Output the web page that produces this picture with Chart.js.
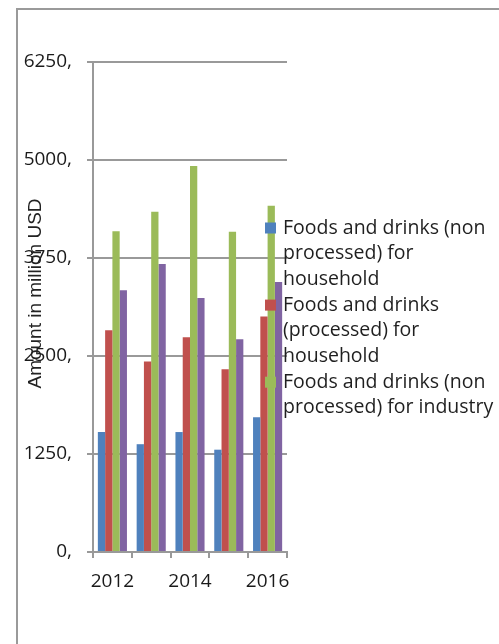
<!DOCTYPE html>
<html>
<head>
<meta charset="utf-8">
<title>Foods and drinks</title>
<script src="https://cdn.jsdelivr.net/npm/chart.js@4.4.1/dist/chart.umd.min.js"></script>
<style>
    html, body { margin: 0; padding: 0; background: #ffffff; }
    #wrap { position: relative; width: 499px; height: 644px; overflow: hidden; }
    #frame {
        position: absolute; left: 16px; top: 8px; width: 700px; height: 800px;
        border-left: 2px solid #9a9a9a; border-top: 2px solid #9a9a9a;
    }
    #chart { position: absolute; left: 0; top: 0; }
</style>
</head>
<body>
<div id="wrap">
    <div id="frame"></div>
    <canvas id="chart" width="499" height="644"></canvas>
</div>
<script>
// --- DATA ---
const categories = ['2012', '2013', '2014', '2015', '2016'];
const nonProcessedHousehold = [1530, 1375, 1530, 1305, 1720];
const processedHousehold = [2830, 2430, 2740, 2330, 3005];
const nonProcessedIndustry = [4090, 4340, 4925, 4085, 4415];
const processedIndustry = [3340, 3675, 3240, 2715, 3445];
const yTickValues = [0, 1250, 2500, 3750, 5000, 6250];
const yTitle = 'Amount in million USD';

const seriesLabels = [
    'Foods and drinks (non processed) for household',
    'Foods and drinks (processed) for household',
    'Foods and drinks (non processed) for industry',
    'Foods and drinks (processed) for industry'
];
const seriesColors = ['#4f81bd', '#c0504d', '#9bbb59', '#8064a2'];
// only the first three entries fit in the original legend box
const legendCount = 3;

const gridColor = '#999999';
const tickFont = { family: '"Open Sans", sans-serif', size: 19 };

/**
 * Draws the rotated axis title and the wrapped legend that overlaps the plot.
 */
const extrasPlugin = {
    id: 'extras',
    afterDraw(chart) {
        const ctx = chart.ctx;
        const area = chart.chartArea;

        // y axis title, sitting over the tick labels like the original
        ctx.save();
        ctx.translate(area.left - 52, (area.top + area.bottom) / 2 - 13.5);
        ctx.rotate(-Math.PI / 2);
        ctx.font = '19px "Liberation Sans", Arial, sans-serif';
        ctx.fillStyle = '#222222';
        ctx.textAlign = 'center';
        ctx.textBaseline = 'alphabetic';
        ctx.fillText(yTitle, 0, 0);
        ctx.restore();

        // legend
        ctx.save();
        ctx.font = '19.5px "Open Sans", sans-serif';
        ctx.textBaseline = 'middle';
        ctx.textAlign = 'left';
        const boxX = area.right - 22;
        const textX = boxX + 18;
        const maxWidth = 216;
        const linePitch = 25.7;
        let y = area.top + 166;

        chart.data.datasets.slice(0, legendCount).forEach(ds => {
            // word wrap
            const words = ds.label.split(' ');
            const lines = [];
            let line = '';
            words.forEach(w => {
                const test = line ? line + ' ' + w : w;
                if (ctx.measureText(test).width > maxWidth && line) {
                    lines.push(line);
                    line = w;
                } else {
                    line = test;
                }
            });
            lines.push(line);

            ctx.fillStyle = ds.backgroundColor;
            ctx.fillRect(boxX, y - 5.5, 11, 11);
            ctx.fillStyle = '#1f1f1f';
            lines.forEach(l => {
                ctx.fillText(l, textX, y);
                y += linePitch;
            });
        });
        ctx.restore();
    }
};

// --- CHART ---
const seriesData = [nonProcessedHousehold, processedHousehold, nonProcessedIndustry, processedIndustry];

new Chart(document.getElementById('chart'), {
    type: 'bar',
    data: {
        labels: categories,
        datasets: seriesData.map((values, i) => ({
            label: seriesLabels[i],
            data: values,
            backgroundColor: seriesColors[i],
            borderWidth: 0,
            categoryPercentage: 0.75,
            barPercentage: 1.0
        }))
    },
    options: {
        responsive: false,
        animation: false,
        layout: { padding: { left: 0, top: 62, right: 212, bottom: 0 } },
        plugins: {
            legend: { display: false },
            tooltip: { enabled: false }
        },
        scales: {
            x: {
                offset: true,
                grid: {
                    offset: true,
                    drawOnChartArea: false,
                    drawTicks: true,
                    tickLength: 6,
                    color: gridColor,
                    lineWidth: 2
                },
                border: { display: true, color: gridColor, width: 2 },
                ticks: {
                    autoSkip: false,
                    maxRotation: 0,
                    padding: 12,
                    color: '#1a1a1a',
                    font: tickFont,
                    callback: (value, index) => index % 2 === 0 ? categories[index] : ''
                },
                afterFit(scale) { scale.height = 92; }
            },
            y: {
                min: yTickValues[0],
                max: yTickValues[yTickValues.length - 1],
                afterBuildTicks(scale) {
                    scale.ticks = yTickValues.map(v => ({ value: v }));
                },
                grid: {
                    color: gridColor,
                    lineWidth: 2,
                    drawTicks: true,
                    tickLength: 6
                },
                border: { display: true, color: gridColor, width: 2 },
                ticks: {
                    padding: 15,
                    color: '#1a1a1a',
                    font: tickFont,
                    callback: value => value + ','
                },
                afterFit(scale) { scale.width = 93; }
            }
        }
    },
    plugins: [extrasPlugin]
});
</script>
</body>
</html>
